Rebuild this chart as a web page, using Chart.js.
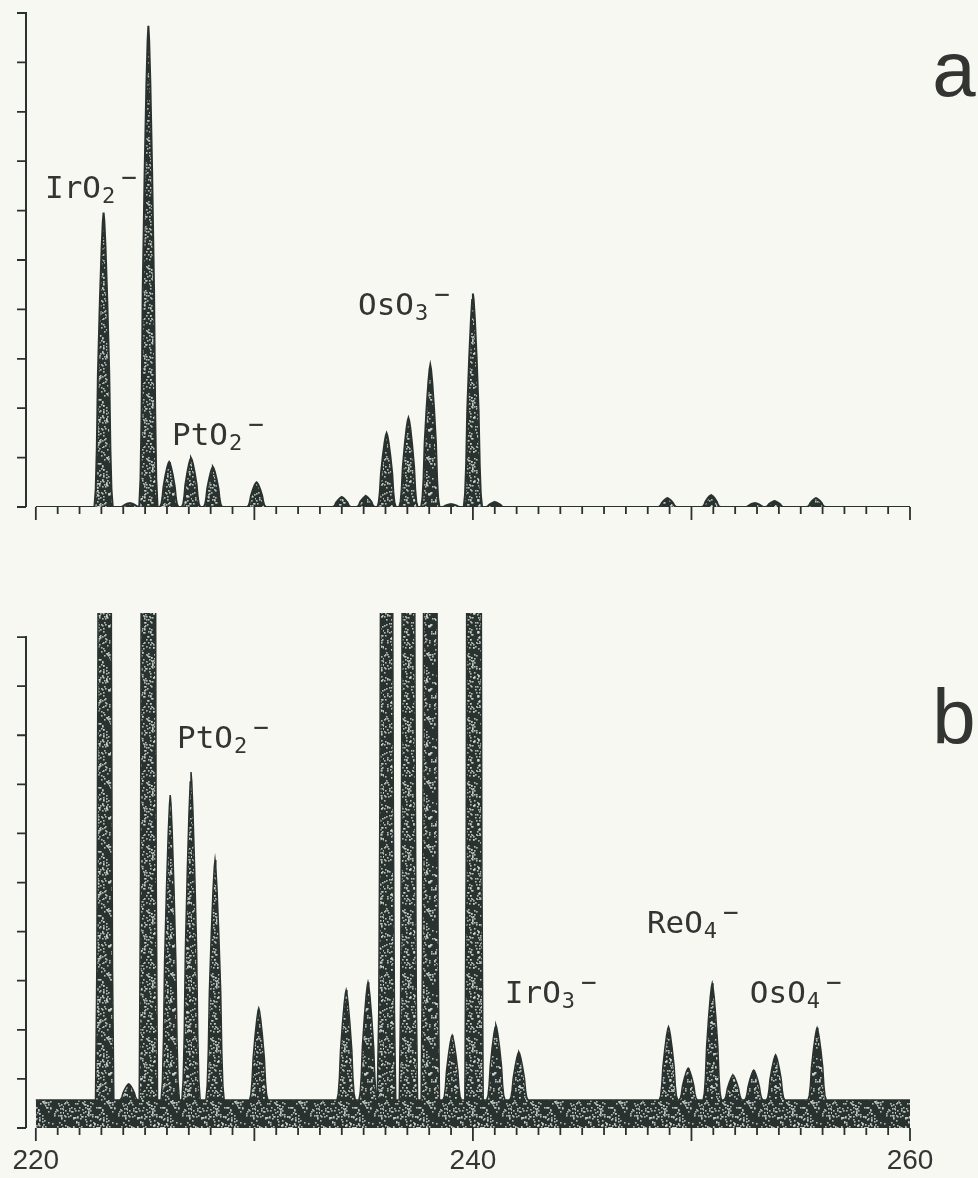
<!DOCTYPE html>
<html>
<head>
<meta charset="utf-8">
<title>Negative ion mass spectra</title>
<script src="https://cdn.jsdelivr.net/npm/chart.js@4.4.1/dist/chart.umd.min.js"></script>
<style>
  html, body { margin: 0; padding: 0; background: #f8f8f3; }
  #wrap { position: relative; width: 978px; height: 1178px; }
  #wrap canvas { position: absolute; left: 0; }
  #chartA { top: 0; }
  #chartB { top: 580px; }
</style>
</head>
<body>
<div id="wrap">
  <canvas id="chartA" width="978" height="540"></canvas>
  <canvas id="chartB" width="978" height="598"></canvas>
</div>
<script>
// --- 1. DATA ---
// spectrum a : peak centres (m/z) and peak heights (axis units)
const massA      = [223.1, 224.3, 225.15, 226.1, 227.1, 228.1, 230.1, 234.0, 235.1, 236.05, 237.05, 238.05, 239.0, 240.0, 241.0, 248.9, 250.9, 252.9, 253.8, 255.7];
const intensityA = [5.96,  0.08,  9.74,   0.91,  0.99,  0.81,  0.50,  0.20,  0.22,  1.49,   1.80,   2.87,   0.06,  4.32,  0.10,  0.18,  0.24,  0.08,  0.12,  0.18];

// spectrum b : same range at higher gain, the big peaks run off the top
const massB      = [223.15, 224.25, 225.15, 226.15, 227.1, 228.2, 230.2, 234.2, 235.2, 236.05, 237.05, 238.05, 239.05, 240.05, 241.05, 242.1, 248.95, 249.85, 250.95, 251.9, 252.85, 253.85, 255.75];
const intensityB = [45,     0.90,   75,     6.78,   7.25,  5.46,  2.44,  2.81,  2.97,  30,     35,     50,     1.89,   80,     2.10,   1.55,  2.06,   1.22,   2.95,   1.08,  1.18,   1.49,   2.04];
const noiseFloorB = 0.57;

const xRange = [220, 260];
const xLabelTicks = [220, 240, 260];
const yTicks = [0, 1, 2, 3, 4, 5, 6, 7, 8, 9, 10];

// ion labels, anchored in data coordinates (m/z, intensity of text baseline)
const labelsA = [
    { text: 'IrO', sub: '2', mz: 220.42, level: 6.26 },
    { text: 'PtO', sub: '2', mz: 226.23, level: 1.26 },
    { text: 'OsO', sub: '3', mz: 234.74, level: 3.89 }
];
const labelsB = [
    { text: 'PtO', sub: '2', mz: 226.46, level: 7.74 },
    { text: 'IrO', sub: '3', mz: 241.46, level: 2.55 },
    { text: 'ReO', sub: '4', mz: 247.96, level: 3.97 },
    { text: 'OsO', sub: '4', mz: 252.67, level: 2.55 }
];

// --- 2. STYLE ---
const INK = '#29322f';
const TEXT = '#333532';
// half outline of one peak: [m/z offset, fraction of peak height]
const peakHalf = [[-0.42, 0], [-0.36, 0.06], [-0.31, 0.2], [-0.26, 0.45], [-0.17, 0.7], [-0.09, 0.88], [-0.035, 0.97], [0, 1]];
const peakProfile = peakHalf.concat(peakHalf.slice(0, -1).reverse().map(p => [-p[0], p[1]]));

// stippled fill like the printed plot (fixed xorshift sequence, texture only)
function makeStipple() {
    const c = document.createElement('canvas');
    c.width = 64; c.height = 64;
    const g = c.getContext('2d');
    g.fillStyle = '#2a322f';
    g.fillRect(0, 0, 64, 64);
    g.fillStyle = 'rgba(214,222,216,0.8)';
    let s = 2463534242;
    const next = () => { s ^= s << 13; s ^= s >>> 17; s ^= s << 5; return (s >>> 0) % 64; };
    for (let i = 0; i < 420; i++) {
        const px = next(), py = next();
        g.fillRect(px, py, 1.6, 1.6);
    }
    return g.createPattern(c, 'repeat');
}

function buildTrace(mass, intensity, floor) {
    const pts = [{ x: xRange[0], y: floor }];
    mass.forEach((m, i) => {
        const h = intensity[i];
        peakProfile.forEach(([dx, f]) => pts.push({ x: m + dx, y: floor + (h - floor) * f }));
    });
    pts.push({ x: xRange[1], y: floor });
    return pts;
}

// --- 3. PLUGINS ---
// y axis line stops at the top tick; ticks point outwards
const axisTicks = {
    id: 'axisTicks',
    afterDraw(chart) {
        const { ctx, chartArea, scales: { x, y } } = chart;
        ctx.save();
        ctx.strokeStyle = INK;
        ctx.lineWidth = 1.8;
        ctx.beginPath();
        for (let m = xRange[0]; m <= xRange[1]; m++) {
            const px = x.getPixelForValue(m);
            const len = m % 10 === 0 ? 13 : 7;
            ctx.moveTo(px, chartArea.bottom);
            ctx.lineTo(px, chartArea.bottom + len);
        }
        yTicks.forEach(v => {
            const py = y.getPixelForValue(v);
            ctx.moveTo(chartArea.left - 9, py);
            ctx.lineTo(chartArea.left, py);
        });
        ctx.stroke();
        ctx.lineWidth = 2;
        ctx.beginPath();
        ctx.moveTo(chartArea.left, y.getPixelForValue(yTicks[0]));
        ctx.lineTo(chartArea.left, y.getPixelForValue(yTicks[yTicks.length - 1]) - 1);
        ctx.stroke();
        ctx.restore();
    }
};

const ionLabels = {
    id: 'ionLabels',
    afterDraw(chart, args, opts) {
        const { ctx, scales: { x, y } } = chart;
        ctx.save();
        ctx.fillStyle = TEXT;
        ctx.textBaseline = 'alphabetic';
        ctx.textAlign = 'left';
        opts.items.forEach(l => {
            const px = x.getPixelForValue(l.mz);
            const py = y.getPixelForValue(l.level);
            ctx.font = '31px "DejaVu Sans Mono"';
            ctx.fillText(l.text, px, py);
            const w = ctx.measureText(l.text).width;
            ctx.font = '22px "DejaVu Sans Mono"';
            ctx.fillText(l.sub, px + w + 1, py + 5);
            const ws = ctx.measureText(l.sub).width;
            ctx.font = '26px "DejaVu Sans Mono"';
            ctx.fillText('\u2212', px + w + ws + 7, py - 12);
        });
        // panel letter
        ctx.font = '78px "Liberation Sans"';
        ctx.textAlign = 'center';
        ctx.fillText(opts.panel, chart.chartArea.right + 44, opts.panelBaseline);
        ctx.restore();
    }
};

// --- 4. CHARTS ---
function makeChart(id, mass, intensity, floor, labels, panel, cfg) {
    const ctx = document.getElementById(id).getContext('2d');
    return new Chart(ctx, {
        type: 'line',
        data: {
            datasets: [{
                data: buildTrace(mass, intensity, floor),
                fill: 'origin',
                backgroundColor: makeStipple(),
                borderColor: INK,
                borderWidth: cfg.lineWidth,
                pointRadius: 0,
                tension: 0
            }]
        },
        options: {
            responsive: false,
            animation: false,
            events: [],
            layout: { autoPadding: false, padding: { left: 26, right: 68, top: cfg.padTop, bottom: 0 } },
            plugins: {
                legend: { display: false },
                tooltip: { enabled: false },
                ionLabels: { items: labels, panel: panel, panelBaseline: cfg.panelBaseline }
            },
            scales: {
                x: {
                    type: 'linear',
                    min: 219.55,
                    max: xRange[1],
                    border: { display: false },
                    grid: { display: false },
                    afterBuildTicks: s => { s.ticks = xLabelTicks.map(v => ({ value: v })); },
                    afterFit: s => { s.height = cfg.xHeight; s.paddingLeft = 0; s.paddingRight = 0; },
                    ticks: {
                        display: cfg.showLabels,
                        maxRotation: 0,
                        padding: 8,
                        color: TEXT,
                        font: { family: '"Liberation Sans"', size: 28 }
                    }
                },
                y: {
                    min: 0,
                    max: cfg.yMax,
                    border: { display: false },
                    grid: { display: false },
                    ticks: { display: false },
                    afterFit: s => { s.width = 0; }
                }
            }
        },
        plugins: [axisTicks, ionLabels]
    });
}

document.addEventListener('DOMContentLoaded', () => {
    makeChart('chartA', massA, intensityA, 0, labelsA, 'a',
        { padTop: 13, yMax: 10, xHeight: 33, lineWidth: 2, showLabels: false, panelBaseline: 96 });
    makeChart('chartB', massB, intensityB, noiseFloorB, labelsB, 'b',
        { padTop: 33, yMax: 10.49, xHeight: 50, lineWidth: 1.5, showLabels: true, panelBaseline: 164 });
});
</script>
</body>
</html>
